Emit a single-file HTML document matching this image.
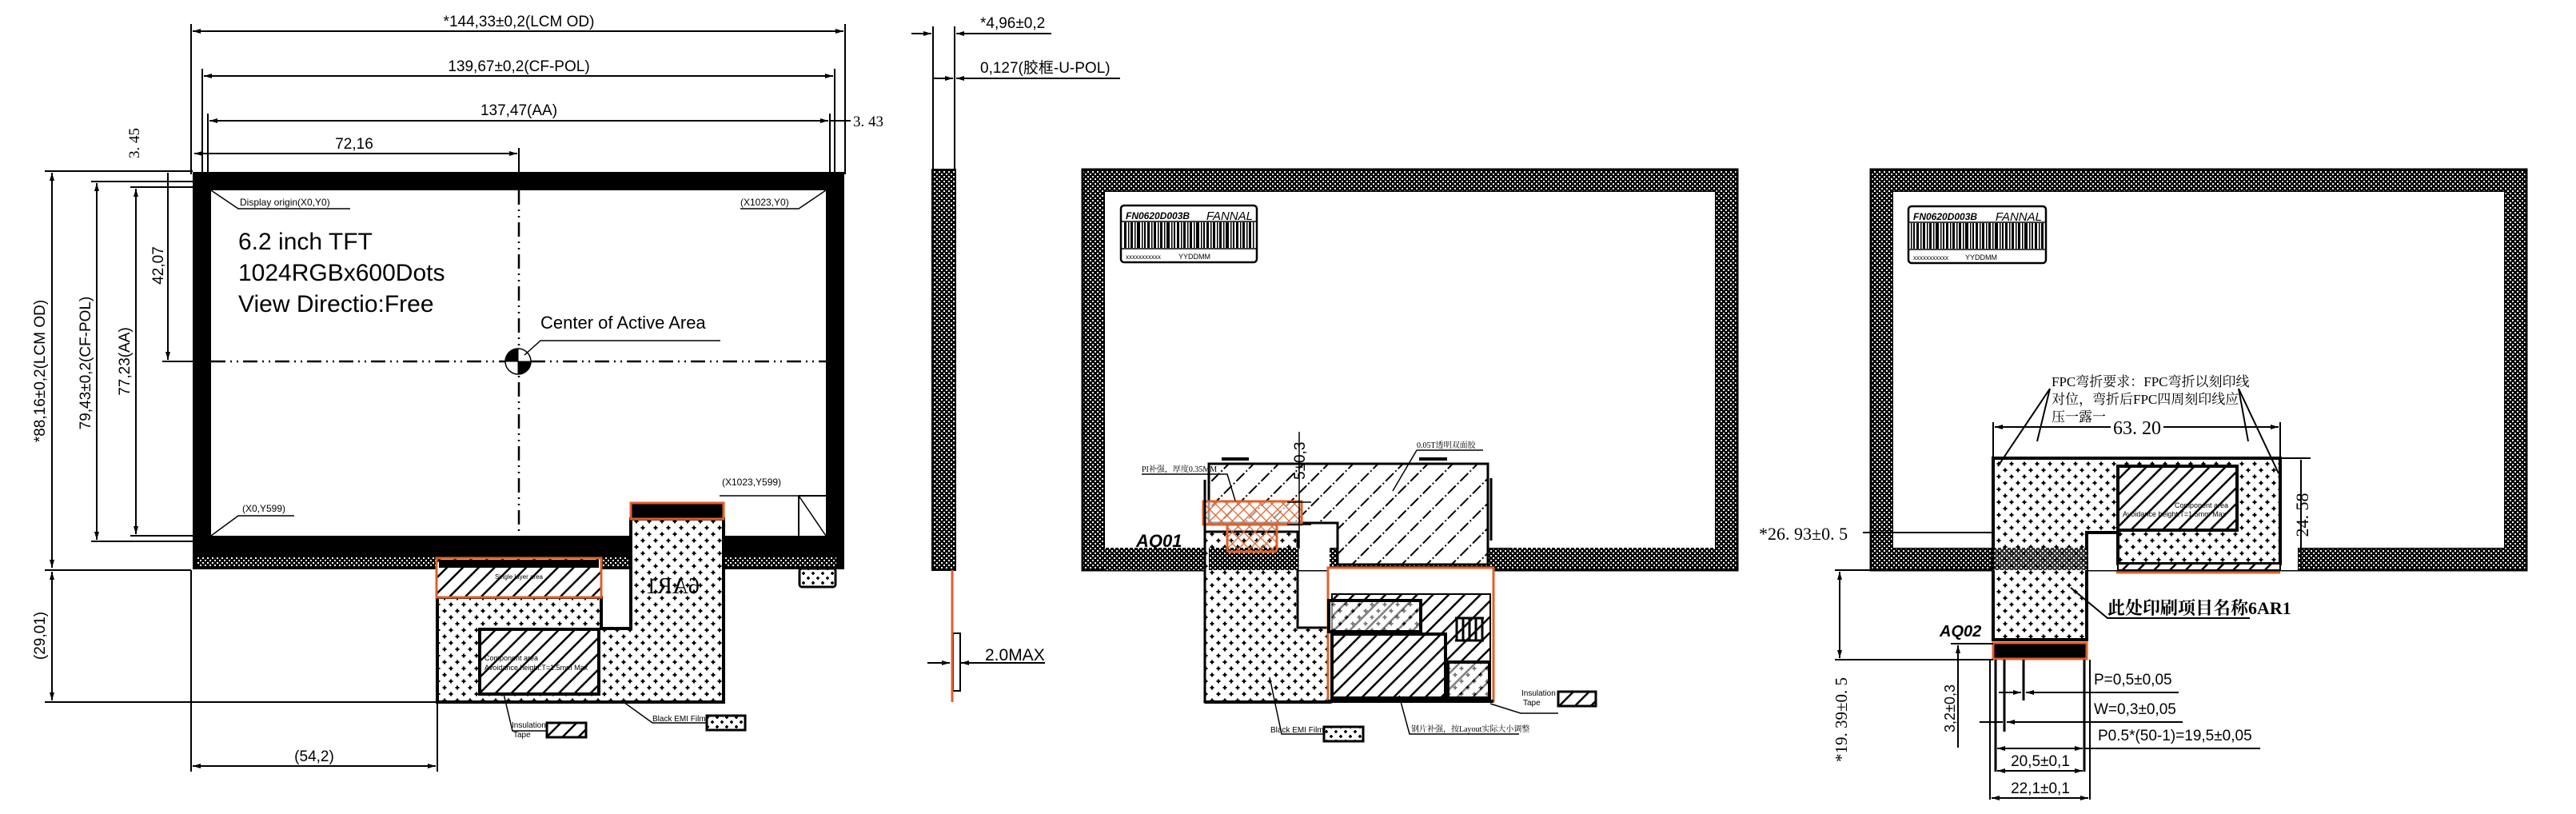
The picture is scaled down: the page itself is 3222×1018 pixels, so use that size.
<!DOCTYPE html>
<html><head><meta charset="utf-8"><style>
html,body{margin:0;padding:0;background:#fff;}
svg{display:block;}
text{font-family:"Liberation Sans","Noto Sans CJK SC",sans-serif;fill:#000;}
.sf{font-family:"Liberation Serif","Noto Serif CJK SC","Noto Sans CJK SC",serif;}
</style></head><body>
<svg width="3222" height="1018" viewBox="0 0 3222 1018" xmlns="http://www.w3.org/2000/svg">
<defs>
<pattern id="fd" width="6" height="6" patternUnits="userSpaceOnUse"><rect width="6" height="6" fill="#000"/><rect x="1" y="1" width="2" height="2" fill="#fff"/><rect x="4" y="4" width="2" height="2" fill="#fff"/></pattern>
<pattern id="emi" width="16" height="16" patternUnits="userSpaceOnUse"><rect width="16" height="16" fill="#fff"/><path d="M4 1.5v5M1.5 4h5M12 9.5v5M9.5 12h5" stroke="#000" stroke-width="2"/></pattern>
<pattern id="emi2" width="12" height="12" patternUnits="userSpaceOnUse"><rect width="12" height="12" fill="#fff"/><path d="M3 1v4M1 3h4M9 7v4M7 9h4" stroke="#000" stroke-width="1.8"/></pattern>
<pattern id="hat" width="14" height="14" patternUnits="userSpaceOnUse" patternTransform="rotate(45)"><rect width="14" height="14" fill="#fff"/><rect x="0" y="0" width="2.5" height="14" fill="#000"/></pattern>
<pattern id="hat2" width="22" height="22" patternUnits="userSpaceOnUse" patternTransform="rotate(45)"><rect width="22" height="22" fill="#fff"/><rect x="0" y="0" width="2" height="14" fill="#000"/><rect x="0" y="17" width="2" height="2" fill="#000"/></pattern>
<pattern id="xh" width="10" height="10" patternUnits="userSpaceOnUse" patternTransform="rotate(45)"><rect width="10" height="10" fill="none"/><path d="M0 0V10M0 0H10" stroke="#e0602a" stroke-width="2.5"/></pattern>
<pattern id="bar" width="37" height="10" patternUnits="userSpaceOnUse"><rect width="37" height="10" fill="#fff"/><rect x="0" width="3" height="10"/><rect x="5" width="1.5" height="10"/><rect x="8" width="3" height="10"/><rect x="13" width="1.5" height="10"/><rect x="16" width="4" height="10"/><rect x="22" width="1.5" height="10"/><rect x="25" width="2" height="10"/><rect x="29" width="3" height="10"/><rect x="34" width="1.5" height="10"/></pattern>
<marker id="ar" markerWidth="10" markerHeight="6" refX="10" refY="3" orient="auto-start-reverse" markerUnits="userSpaceOnUse"><path d="M0 0L10 3L0 6z"/></marker>
</defs>

<g stroke="#000" fill="none" stroke-width="2">
<!-- ============ PANEL 1 ============ -->
<!-- top dims -->
<line x1="239" y1="30" x2="239" y2="218"/><line x1="1057" y1="30" x2="1057" y2="218"/>
<line x1="241" y1="39" x2="1055" y2="39" marker-start="url(#ar)" marker-end="url(#ar)"/>
<line x1="253" y1="86" x2="253" y2="218"/><line x1="1044" y1="86" x2="1044" y2="218"/>
<line x1="255" y1="95" x2="1042" y2="95" marker-start="url(#ar)" marker-end="url(#ar)"/>
<line x1="260" y1="142" x2="260" y2="220"/><line x1="1038" y1="142" x2="1038" y2="220"/>
<line x1="262" y1="151" x2="1036" y2="151" marker-start="url(#ar)" marker-end="url(#ar)"/>
<line x1="1038" y1="151" x2="1064" y2="151"/>
<line x1="243" y1="192" x2="647" y2="192" marker-start="url(#ar)" marker-end="url(#ar)"/>
<line x1="649" y1="185" x2="649" y2="215"/>
<!-- left dims -->
<line x1="56" y1="214" x2="241" y2="214"/>
<line x1="65" y1="216" x2="65" y2="710" marker-start="url(#ar)" marker-end="url(#ar)"/>
<line x1="114" y1="227" x2="241" y2="227"/>
<line x1="121" y1="229" x2="121" y2="675" marker-start="url(#ar)" marker-end="url(#ar)"/>
<line x1="163" y1="234" x2="241" y2="234"/>
<line x1="170" y1="236" x2="170" y2="668" marker-start="url(#ar)" marker-end="url(#ar)"/>
<line x1="210" y1="216" x2="210" y2="450" marker-end="url(#ar)"/>
<line x1="203" y1="452" x2="262" y2="452"/>
<line x1="163" y1="670" x2="241" y2="670"/><line x1="114" y1="677" x2="241" y2="677"/>
<line x1="56" y1="713" x2="239" y2="713"/>
<line x1="65" y1="715" x2="65" y2="876" marker-start="url(#ar)" marker-end="url(#ar)"/>
<line x1="56" y1="878" x2="547" y2="878"/>
<line x1="239" y1="713" x2="239" y2="965"/><line x1="547" y1="747" x2="547" y2="965"/>
<line x1="241" y1="958" x2="545" y2="958" marker-start="url(#ar)" marker-end="url(#ar)"/>
</g>

<!-- LCM body -->
<rect x="241" y="215" width="815" height="497" fill="#000"/>
<rect x="246" y="697" width="800" height="12" fill="url(#fd)"/>
<rect x="264" y="238" width="769" height="432" fill="#fff"/>
<g stroke="#000" fill="none">
<line x1="649" y1="238" x2="649" y2="670" stroke-width="2.5" stroke-dasharray="18,6,2,6,2,6"/>
<line x1="264" y1="452" x2="1033" y2="452" stroke-width="2.5" stroke-dasharray="18,6,2,6,2,6"/>
<circle cx="648" cy="452" r="16" stroke-width="1.5" fill="#fff"/>
<path d="M648 452V436A16 16 0 0 0 632 452Z M648 452V468A16 16 0 0 0 664 452Z" fill="#000"/>
<path d="M656 444L676 426H901" stroke-width="1.5"/>
<path d="M264 238L298 261H438" stroke-width="1.5"/>
<path d="M1033 238L999 261H926" stroke-width="1.5"/>
<path d="M264 670L298 645H368" stroke-width="1.5"/>
<path d="M1033 670L999 620H900" stroke-width="1.5"/>
<path d="M999 620V670M999 620H1033" stroke-width="2"/>
</g>
<text x="300" y="257" font-size="12">Display origin(X0,Y0)</text>
<text x="926" y="257" font-size="12">(X1023,Y0)</text>
<text x="303" y="640" font-size="12">(X0,Y599)</text>
<text x="903" y="607" font-size="12">(X1023,Y599)</text>
<text x="298" y="312" font-size="30">6.2 inch TFT</text>
<text x="298" y="351" font-size="30">1024RGBx600Dots</text>
<text x="298" y="390" font-size="30">View Directio:Free</text>
<text x="676" y="411" font-size="22">Center of Active Area</text>
<text x="649" y="33" font-size="19" text-anchor="middle">*144,33±0,2(LCM OD)</text>
<text x="649" y="89" font-size="19" text-anchor="middle">139,67±0,2(CF-POL)</text>
<text x="649" y="144" font-size="19" text-anchor="middle">137,47(AA)</text>
<text x="443" y="186" font-size="19" text-anchor="middle">72,16</text>
<text x="1067" y="158" font-size="19" class="sf">3. 43</text>
<text transform="translate(174,198) rotate(-90)" font-size="19" class="sf">3. 45</text>
<text transform="translate(56,464) rotate(-90)" font-size="19" text-anchor="middle">*88,16±0,2(LCM OD)</text>
<text transform="translate(113,454) rotate(-90)" font-size="19" text-anchor="middle">79,43±0,2(CF-POL)</text>
<text transform="translate(162,452) rotate(-90)" font-size="19" text-anchor="middle">77,23(AA)</text>
<text transform="translate(204,332) rotate(-90)" font-size="19" text-anchor="middle">42,07</text>
<text transform="translate(56,795) rotate(-90)" font-size="19" text-anchor="middle">(29,01)</text>
<text x="393" y="952" font-size="19" text-anchor="middle">(54,2)</text>

<!-- FPC panel 1 -->
<path d="M547 747H752V786H789V649H905V878H547Z" fill="url(#emi)" stroke="#000" stroke-width="4"/>
<rect x="546" y="698" width="206" height="49" fill="url(#hat)" stroke="#e0602a" stroke-width="3"/>
<rect x="549" y="700" width="200" height="10" fill="#000"/>
<text x="649" y="724" font-size="8" text-anchor="middle">Single layer area</text>
<rect x="600" y="787" width="149" height="81" fill="url(#hat)" stroke="#000" stroke-width="4"/>
<text x="606" y="826" font-size="9">Component area</text>
<text x="606" y="838" font-size="9">Avoidance height:T=1.5mm Max</text>
<rect x="789" y="629" width="116" height="20" fill="#000" stroke="#e0602a" stroke-width="3"/>
<text transform="translate(875,742) scale(-1,1)" font-size="28" class="sf">6AR1</text>
<rect x="1000" y="711" width="45" height="23" rx="3" fill="url(#emi2)" stroke="#000" stroke-width="3"/>
<g stroke="#000" stroke-width="1.5" fill="none">
<path d="M630 868L641 914H684"/><path d="M780 878L816 904H884"/>
</g>
<text x="640" y="910" font-size="10">Insulation</text><text x="642" y="922" font-size="10">Tape</text>
<rect x="684" y="904" width="49" height="18" fill="url(#hat)" stroke="#000" stroke-width="3"/>
<text x="816" y="902" font-size="10">Black EMI Film</text>
<rect x="884" y="895" width="48" height="18" fill="url(#emi2)" stroke="#000" stroke-width="3"/>

<!-- ============ PANEL 2: side view ============ -->
<g stroke="#000" stroke-width="2" fill="none">
<line x1="1167" y1="33" x2="1167" y2="212"/><line x1="1194" y1="33" x2="1194" y2="212"/>
<line x1="1140" y1="42" x2="1165" y2="42" marker-end="url(#ar)"/>
<line x1="1315" y1="42" x2="1196" y2="42" marker-end="url(#ar)"/>
<line x1="1167" y1="98" x2="1192" y2="98" marker-end="url(#ar)"/>
<line x1="1401" y1="98" x2="1196" y2="98" marker-end="url(#ar)"/>
<line x1="1160" y1="829" x2="1188" y2="829" marker-end="url(#ar)"/>
<line x1="1307" y1="829" x2="1202" y2="829" marker-end="url(#ar)"/>
<rect x="1192" y="792" width="9" height="72" stroke-width="2"/>
</g>
<rect x="1166" y="212" width="29" height="501" fill="url(#fd)" stroke="#000" stroke-width="2"/>
<line x1="1191" y1="713" x2="1191" y2="878" stroke="#e0602a" stroke-width="3"/>
<text x="1226" y="35" font-size="19">*4,96±0,2</text>
<text x="1226" y="91" font-size="19">0,127(胶框-U-POL)</text>
<text x="1232" y="826" font-size="21">2.0MAX</text>

<!-- ============ PANEL 2: back view ============ -->
<path d="M1354 212H2173V713H1354Z M1382 240V685H2145V240Z" fill="url(#fd)" fill-rule="evenodd" stroke="#000" stroke-width="3"/>
<rect x="1382" y="240" width="763" height="445" fill="#fff"/>
<rect x="1382" y="685" width="128" height="28" fill="url(#fd)"/>
<rect x="1892" y="685" width="253" height="28" fill="url(#fd)"/>
<rect x="1623" y="685" width="40" height="28" fill="#fff"/>
<line x1="1863" y1="713" x2="2173" y2="713" stroke="#000" stroke-width="3"/>
<!-- label -->
<rect x="1402" y="257" width="170" height="71" rx="4" fill="#fff" stroke="#000" stroke-width="2.5"/>
<rect x="1405" y="278" width="164" height="32" fill="url(#bar)"/>
<line x1="1403" y1="277" x2="1571" y2="277" stroke="#000" stroke-width="1.5"/><line x1="1403" y1="311" x2="1571" y2="311" stroke="#000" stroke-width="1.5"/>
<text x="1408" y="274" font-size="12" font-weight="bold" font-style="italic">FN0620D003B</text>
<text x="1567" y="275" font-size="15" font-style="italic" text-anchor="end">FANNAL</text>
<text x="1408" y="324" font-size="8">xxxxxxxxxxx</text><text x="1474" y="324" font-size="9">YYDDMM</text>
<!-- FPC -->
<path d="M1507 665H1623V785H1665V878H1507Z" fill="url(#emi)" stroke="#000" stroke-width="3"/>
<path d="M1512 580H1861V706H1673V654H1512Z" fill="url(#hat2)" stroke="#000" stroke-width="3"/>
<rect x="1512" y="685" width="111" height="28" fill="url(#fd)"/>
<rect x="1505" y="627" width="123" height="29" fill="#fff" fill-opacity="0.6" stroke="#e0602a" stroke-width="3"/>
<rect x="1505" y="627" width="123" height="29" fill="url(#xh)"/>
<rect x="1535" y="656" width="62" height="34" rx="3" fill="url(#xh)" stroke="#e0602a" stroke-width="3"/>
<line x1="1507" y1="600" x2="1507" y2="670" stroke="#000" stroke-width="3"/>
<line x1="1865" y1="598" x2="1865" y2="676" stroke="#000" stroke-width="3"/>
<line x1="1528" y1="574" x2="1562" y2="574" stroke="#000" stroke-width="4"/>
<line x1="1775" y1="574" x2="1810" y2="574" stroke="#000" stroke-width="4"/>
<rect x="1661" y="710" width="207" height="167" fill="#fff" stroke="#e0602a" stroke-width="3"/>
<rect x="1666" y="743" width="198" height="134" fill="url(#hat)" stroke="#000" stroke-width="2"/>
<rect x="1662" y="751" width="115" height="39" fill="url(#emi)" fill-opacity="0.5" stroke="#000" stroke-width="4"/>
<rect x="1666" y="793" width="142" height="80" fill="url(#hat)" stroke="#000" stroke-width="4"/>
<rect x="1811" y="828" width="52" height="45" fill="url(#emi)" fill-opacity="0.5" stroke="#000" stroke-width="4"/>
<g stroke="#000" stroke-width="3" fill="none"><path d="M1822 773v28M1830 773v28M1838 773v28M1846 773v28M1854 773v28M1820 773h36M1820 801h36"/></g>
<line x1="1661" y1="877" x2="1868" y2="877" stroke="#000" stroke-width="4"/>
<line x1="1507" y1="878" x2="1665" y2="878" stroke="#000" stroke-width="4"/>
<g stroke="#000" stroke-width="1.5" fill="none">
<line x1="1625" y1="540" x2="1625" y2="686"/>
<line x1="1610" y1="628" x2="1640" y2="628"/><line x1="1610" y1="656" x2="1640" y2="656"/>
<path d="M1428 593H1535L1545 626"/><path d="M1772 563L1742 614"/><path d="M1772 563H1855"/>
<path d="M1588 847L1603 918H1656"/><path d="M1750 870L1763 918H1900"/><path d="M1864 880L1902 892H1949"/>
</g>
<text x="1428" y="590" font-size="10" class="sf">PI补强，厚度0.35MM</text>
<text x="1772" y="560" font-size="10" class="sf">0.05T透明双面胶</text>
<text transform="translate(1632,600) rotate(-90)" font-size="19">5±0,3</text>
<text x="1421" y="684" font-size="22" font-weight="bold" font-style="italic">AQ01</text>
<text x="1589" y="916" font-size="10">Black EMI Film</text>
<rect x="1656" y="909" width="49" height="18" fill="url(#emi2)" stroke="#000" stroke-width="3"/>
<text x="1765" y="915" font-size="10" class="sf">钢片补强，按Layout实际大小调整</text>
<text x="1903" y="870" font-size="10">Insulation</text><text x="1905" y="882" font-size="10">Tape</text>
<rect x="1949" y="865" width="47" height="18" fill="url(#hat)" stroke="#000" stroke-width="3"/>

<!-- ============ PANEL 3 ============ -->
<path d="M2340 212H3160V713H2340Z M2368 240V685H3132V240Z" fill="url(#fd)" fill-rule="evenodd" stroke="#000" stroke-width="3"/>
<rect x="2368" y="240" width="764" height="445" fill="#fff"/>
<rect x="2609" y="685" width="40" height="28" fill="#fff"/>
<rect x="2852" y="685" width="22" height="28" fill="#fff"/>
<rect x="2387" y="258" width="172" height="71" rx="4" fill="#fff" stroke="#000" stroke-width="2.5"/>
<rect x="2390" y="279" width="166" height="32" fill="url(#bar)"/>
<line x1="2388" y1="278" x2="2558" y2="278" stroke="#000" stroke-width="1.5"/><line x1="2388" y1="312" x2="2558" y2="312" stroke="#000" stroke-width="1.5"/>
<text x="2393" y="275" font-size="12" font-weight="bold" font-style="italic">FN0620D003B</text>
<text x="2554" y="276" font-size="15" font-style="italic" text-anchor="end">FANNAL</text>
<text x="2393" y="325" font-size="8">xxxxxxxxxxx</text><text x="2458" y="325" font-size="9">YYDDMM</text>
<!-- FPC -->
<path d="M2493 573H2852V705H2649V666H2610V800H2493Z" fill="url(#emi)" stroke="#000" stroke-width="4"/>
<rect x="2493" y="685" width="117" height="28" fill="url(#fd)" fill-opacity="0.8"/>
<rect x="2649" y="583" width="149" height="80" fill="url(#hat)" stroke="#000" stroke-width="4"/>
<text x="2720" y="635" font-size="9">Component area</text>
<text x="2655" y="646" font-size="9">Avoidance height:T=1.5mm Max</text>
<rect x="2649" y="705" width="203" height="8" fill="url(#hat)" stroke="#000" stroke-width="2"/>
<line x1="2647" y1="716" x2="2852" y2="716" stroke="#e0602a" stroke-width="3"/>
<rect x="2493" y="804" width="117" height="20" fill="#000" stroke="#e0602a" stroke-width="3"/>
<g stroke="#000" stroke-width="2" fill="none">
<line x1="2521" y1="573" x2="2570" y2="573" stroke-width="4"/><line x1="2760" y1="573" x2="2810" y2="573" stroke-width="4"/>
<line x1="2493" y1="528" x2="2493" y2="573"/><line x1="2852" y1="528" x2="2852" y2="573"/>
<line x1="2495" y1="534" x2="2640" y2="534" marker-start="url(#ar)"/><line x1="2706" y1="534" x2="2850" y2="534" marker-end="url(#ar)"/>
<path d="M2564 486L2499 583M2564 486L2548 552"/>
<path d="M2800 486L2850 592M2800 486L2812 552"/>
<line x1="2852" y1="573" x2="2890" y2="573"/>
<line x1="2878" y1="575" x2="2878" y2="713"/><line x1="2874" y1="713" x2="2895" y2="713"/>
<line x1="2330" y1="666" x2="2493" y2="666"/>
<line x1="2295" y1="713" x2="2493" y2="713"/>
<line x1="2301" y1="715" x2="2301" y2="823" marker-start="url(#ar)" marker-end="url(#ar)"/>
<line x1="2295" y1="825" x2="2493" y2="825"/>
<line x1="2440" y1="805" x2="2493" y2="805"/>
<line x1="2449" y1="807" x2="2449" y2="935" marker-start="url(#ar)"/>
<path d="M2590 735L2636 773H2814"/>
<line x1="2496" y1="825" x2="2496" y2="965" stroke-width="3"/><line x1="2607" y1="825" x2="2607" y2="965" stroke-width="3"/>
<line x1="2507" y1="825" x2="2507" y2="915" stroke-width="3"/><line x1="2531" y1="825" x2="2531" y2="876" stroke-width="3"/>
<line x1="2489" y1="825" x2="2489" y2="1000"/><line x1="2614" y1="825" x2="2614" y2="1000"/>
<line x1="2500" y1="866" x2="2528" y2="866" marker-end="url(#ar)"/><line x1="2725" y1="866" x2="2534" y2="866" marker-end="url(#ar)"/>
<line x1="2476" y1="903" x2="2505" y2="903"/><line x1="2730" y1="903" x2="2510" y2="903" marker-end="url(#ar)"/>
<line x1="2607" y1="936" x2="2827" y2="936"/>
<line x1="2498" y1="936" x2="2605" y2="936" marker-start="url(#ar)" marker-end="url(#ar)"/>
<line x1="2498" y1="964" x2="2605" y2="964" marker-start="url(#ar)" marker-end="url(#ar)"/>
<line x1="2491" y1="998" x2="2612" y2="998" marker-start="url(#ar)" marker-end="url(#ar)"/>
</g>
<text x="2566" y="483" font-size="17" class="sf">FPC弯折要求：FPC弯折以刻印线</text>
<text x="2566" y="505" font-size="17" class="sf">对位，弯折后FPC四周刻印线应</text>
<text x="2566" y="527" font-size="17" class="sf">压一露一</text>
<text x="2673" y="543" font-size="24" class="sf" text-anchor="middle">63. 20</text>
<text transform="translate(2887,644) rotate(-90)" font-size="22" class="sf" text-anchor="middle">24. 58</text>
<text x="2200" y="675" font-size="22" class="sf">*26. 93±0. 5</text>
<text x="2636" y="768" font-size="22" font-weight="bold" class="sf">此处印刷项目名称6AR1</text>
<text x="2426" y="796" font-size="20" font-weight="bold" font-style="italic">AQ02</text>
<text transform="translate(2310,900) rotate(-90)" font-size="21" class="sf" text-anchor="middle">*19. 39±0. 5</text>
<text transform="translate(2445,886) rotate(-90)" font-size="18" text-anchor="middle">3,2±0,3</text>
<text x="2619" y="856" font-size="19">P=0,5±0,05</text>
<text x="2619" y="893" font-size="19">W=0,3±0,05</text>
<text x="2624" y="926" font-size="19">P0.5*(50-1)=19,5±0,05</text>
<text x="2552" y="958" font-size="19" text-anchor="middle">20,5±0,1</text>
<text x="2552" y="992" font-size="19" text-anchor="middle">22,1±0,1</text>
</svg>
</body></html>
